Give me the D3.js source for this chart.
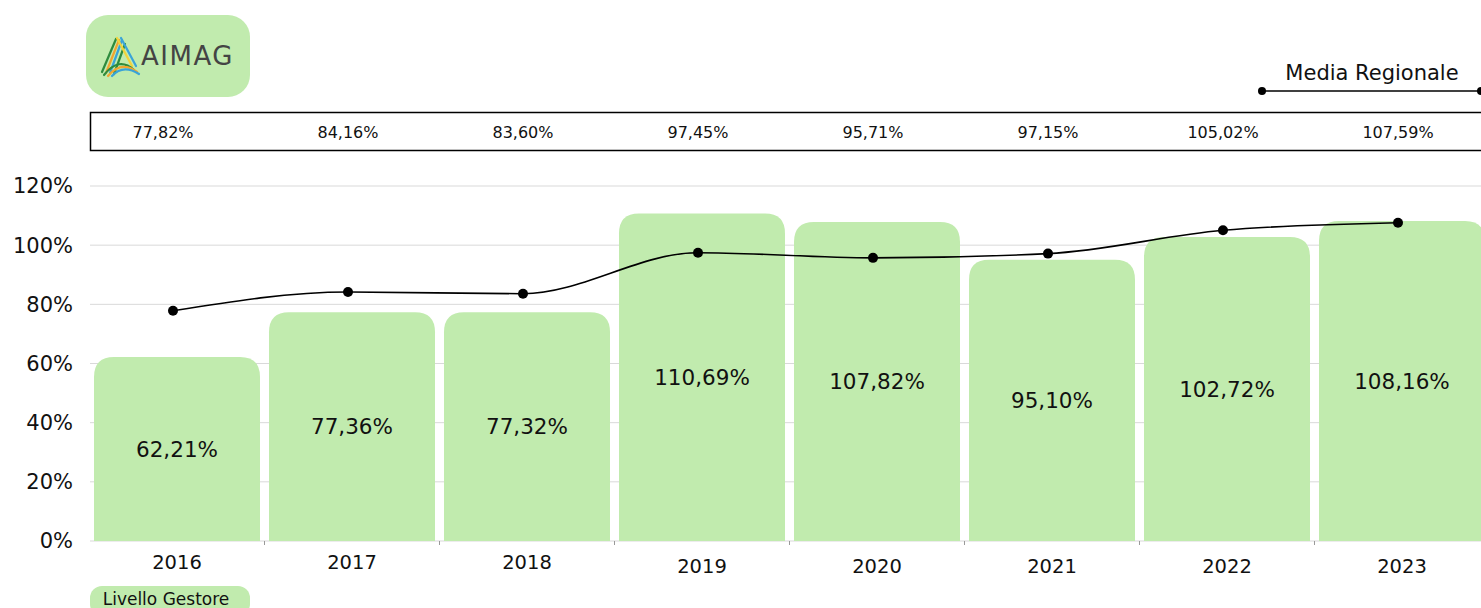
<!DOCTYPE html>
<html>
<head>
<meta charset="utf-8">
<script src="https://cdn.jsdelivr.net/npm/d3@7"></script>
<style>
  body { margin: 0; background: #fff; }
  svg { display: block; font-family: "DejaVu Sans", sans-serif; }
</style>
</head>
<body>
<div id="chart"></div>
<script>
  // dati
  const years = ["2016", "2017", "2018", "2019", "2020", "2021", "2022", "2023"];
  const gestore = [62.21, 77.36, 77.32, 110.69, 107.82, 95.10, 102.72, 108.16];
  const regionale = [77.82, 84.16, 83.60, 97.45, 95.71, 97.15, 105.02, 107.59];
  const yTicks = [0, 20, 40, 60, 80, 100, 120];

  const width = 1481, height = 608;
  const green = "#c1ebae";
  const fmt = v => v.toFixed(2).replace(".", ",") + "%";

  const svg = d3.select("#chart")
                .append("svg")
                .attr("width", width)
                .attr("height", height);

  const x = d3.scaleBand()
              .domain(years)
              .range([90, 1489])
              .paddingInner(0.0514)
              .paddingOuter(0.0229);

  const y = d3.scaleLinear().domain([0, 120]).range([541, 186]);

  // griglia
  svg.selectAll("line.grid")
    .data(yTicks)
    .enter()
    .append("line")
    .attr("class", "grid")
    .attr("x1", 90).attr("x2", width)
    .attr("y1", d => y(d)).attr("y2", d => y(d))
    .attr("stroke", "#d9d9d9")
    .attr("stroke-width", 1);

  // asse y
  svg.selectAll("text.ytick")
    .data(yTicks)
    .enter()
    .append("text")
    .attr("class", "ytick")
    .attr("x", 73)
    .attr("y", d => y(d))
    .attr("dy", "0.35em")
    .attr("text-anchor", "end")
    .attr("font-size", 21)
    .attr("fill", "#111")
    .text(d => d + "%");

  // barre con angoli superiori arrotondati
  const r = 20;
  function barPath(d, i) {
    const x0 = x(years[i]), w = x.bandwidth();
    const top = y(d), bottom = y(0);
    return `M${x0},${bottom} L${x0},${top + r} Q${x0},${top} ${x0 + r},${top}
            L${x0 + w - r},${top} Q${x0 + w},${top} ${x0 + w},${top + r}
            L${x0 + w},${bottom} Z`;
  }
  svg.selectAll("path.bar")
    .data(gestore)
    .enter()
    .append("path")
    .attr("class", "bar")
    .attr("d", barPath)
    .attr("fill", green);

  svg.selectAll("text.barlabel")
    .data(gestore)
    .enter()
    .append("text")
    .attr("class", "barlabel")
    .attr("x", (d, i) => x(years[i]) + x.bandwidth() / 2)
    .attr("y", d => (y(d) + y(0)) / 2)
    .attr("dy", "0.35em")
    .attr("text-anchor", "middle")
    .attr("font-size", 21.5)
    .attr("fill", "#111")
    .text(fmt);

  // tacche asse x
  svg.selectAll("line.xtick")
    .data(years.slice(1))
    .enter()
    .append("line")
    .attr("x1", d => x(d) - x.step() * x.paddingInner() / 2)
    .attr("x2", d => x(d) - x.step() * x.paddingInner() / 2)
    .attr("y1", 541).attr("y2", 545)
    .attr("stroke", "#999");

  svg.selectAll("text.xtick")
    .data(years)
    .enter()
    .append("text")
    .attr("x", d => x(d) + x.bandwidth() / 2)
    .attr("y", (d, i) => i < 3 ? 562 : 566)
    .attr("dy", "0.35em")
    .attr("text-anchor", "middle")
    .attr("font-size", 19.5)
    .attr("fill", "#111")
    .text(d => d);

  // linea media regionale
  const lx = (d, i) => x(years[i]) + x.bandwidth() / 2 - 4;
  const line = d3.line()
                 .x(lx)
                 .y(d => y(d))
                 .curve(d3.curveMonotoneX);
  svg.append("path")
    .datum(regionale)
    .attr("d", line)
    .attr("fill", "none")
    .attr("stroke", "#000")
    .attr("stroke-width", 1.6);

  svg.selectAll("circle.pt")
    .data(regionale)
    .enter()
    .append("circle")
    .attr("cx", lx)
    .attr("cy", d => y(d))
    .attr("r", 5)
    .attr("fill", "#000");

  // tabella valori regionali
  svg.append("rect")
    .attr("x", 90.5).attr("y", 112.5)
    .attr("width", 1400).attr("height", 38)
    .attr("fill", "none")
    .attr("stroke", "#000")
    .attr("stroke-width", 1.5);

  svg.selectAll("text.tab")
    .data(regionale)
    .enter()
    .append("text")
    .attr("x", (d, i) => i === 0 ? lx(d, i) - 10 : lx(d, i))
    .attr("y", 132)
    .attr("dy", "0.35em")
    .attr("text-anchor", "middle")
    .attr("font-size", 16)
    .attr("fill", "#111")
    .text(fmt);

  // legenda media regionale
  const lg = svg.append("g");
  lg.append("line")
    .attr("x1", 1262).attr("x2", 1481)
    .attr("y1", 91).attr("y2", 91)
    .attr("stroke", "#000").attr("stroke-width", 1.6);
  lg.selectAll("circle")
    .data([1262, 1481])
    .enter()
    .append("circle")
    .attr("cx", d => d).attr("cy", 91).attr("r", 4).attr("fill", "#000");
  lg.append("text")
    .attr("x", 1372).attr("y", 73)
    .attr("dy", "0.35em")
    .attr("text-anchor", "middle")
    .attr("font-size", 21)
    .attr("fill", "#111")
    .text("Media Regionale");

  // legenda livello gestore
  svg.append("rect")
    .attr("x", 90).attr("y", 586)
    .attr("width", 160).attr("height", 30)
    .attr("rx", 12)
    .attr("fill", green);
  svg.append("text")
    .attr("x", 166).attr("y", 599)
    .attr("dy", "0.35em")
    .attr("text-anchor", "middle")
    .attr("font-size", 17)
    .attr("fill", "#111")
    .text("Livello Gestore");

  // logo
  const logo = svg.append("g");
  logo.append("rect")
    .attr("x", 86).attr("y", 15)
    .attr("width", 164).attr("height", 82)
    .attr("rx", 22)
    .attr("fill", green);
  const strokes = [
    { c: "#2e8b3e", d: "M102,72 L116,39" },
    { c: "#f0a530", d: "M106,73 L119,40" },
    { c: "#3aa3d8", d: "M110,73 L122,40" },
    { c: "#2e8b3e", d: "M114,74 L125,44" },
    { c: "#f2d33a", d: "M117,38 L132,66" },
    { c: "#3aa3d8", d: "M121,38 L136,66" },
    { c: "#2e8b3e", d: "M104,75 Q119,56 134,70" },
    { c: "#f0a530", d: "M108,76 Q121,60 137,72" },
    { c: "#3aa3d8", d: "M112,76 Q123,64 139,74" }
  ];
  logo.selectAll("path")
    .data(strokes)
    .enter()
    .append("path")
    .attr("d", d => d.d)
    .attr("fill", "none")
    .attr("stroke", d => d.c)
    .attr("stroke-width", 2.2)
    .attr("stroke-linecap", "round");
  logo.append("text")
    .attr("x", 141).attr("y", 56)
    .attr("dy", "0.35em")
    .attr("font-size", 26)
    .attr("letter-spacing", 1.5)
    .attr("fill", "#444")
    .text("AIMAG");
</script>
</body>
</html>
